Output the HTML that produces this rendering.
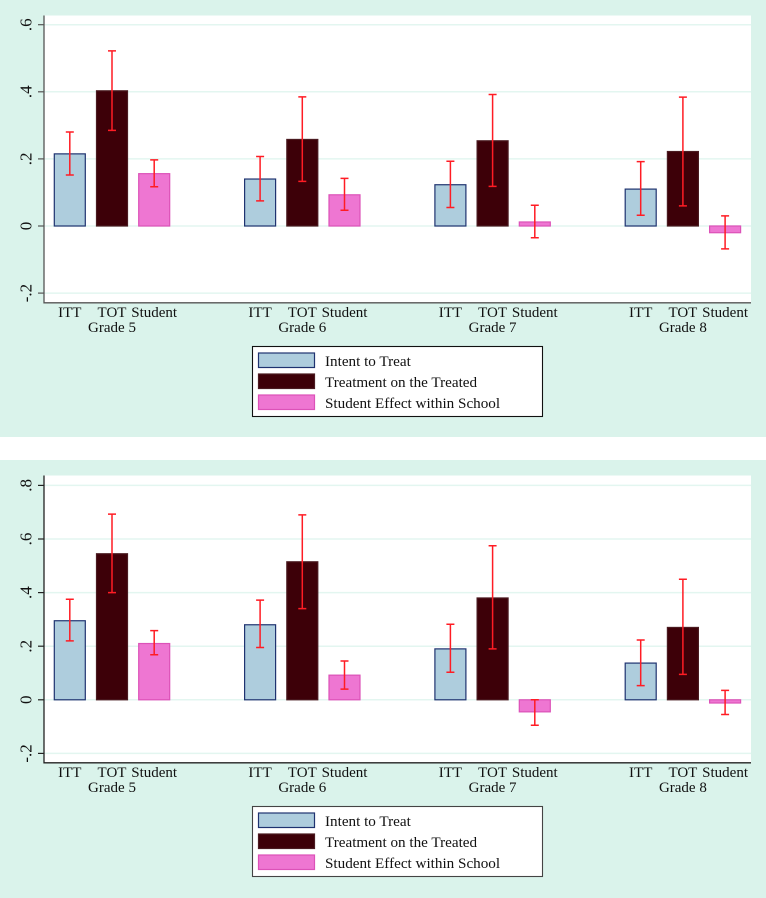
<!DOCTYPE html>
<html lang="en">
<head>
<meta charset="utf-8">
<title>Effects by grade</title>
<style>
html,body{margin:0;padding:0;background:#fff;width:766px;height:898px;overflow:hidden}
svg{display:block}
text{font-family:"Liberation Serif",serif;font-size:15px;fill:#111}
text.ytick{font-size:17px}
text.legend-text{font-size:15.15px}
</style>
</head>
<body>
<svg id="chart" xmlns="http://www.w3.org/2000/svg" width="766" height="898" viewBox="0 0 766 898"></svg>
<script>
const grades = ["Grade 5", "Grade 6", "Grade 7", "Grade 8"];
const measures = ["ITT", "TOT", "Student"];
const legendLabels = ["Intent to Treat", "Treatment on the Treated", "Student Effect within School"];

const topTicks = [-0.2, 0, 0.2, 0.4, 0.6];
const topTickLabels = ["-.2", "0", ".2", ".4", ".6"];
const topValues = [[0.215, 0.403, 0.156], [0.140, 0.258, 0.093], [0.123, 0.254, 0.012], [0.110, 0.222, -0.020]];
const topLow = [[0.152, 0.285, 0.117], [0.075, 0.133, 0.047], [0.055, 0.118, -0.035], [0.032, 0.060, -0.068]];
const topHigh = [[0.280, 0.522, 0.197], [0.207, 0.385, 0.142], [0.193, 0.392, 0.062], [0.192, 0.384, 0.030]];

const bottomTicks = [-0.2, 0, 0.2, 0.4, 0.6, 0.8];
const bottomTickLabels = ["-.2", "0", ".2", ".4", ".6", ".8"];
const bottomValues = [[0.295, 0.545, 0.210], [0.280, 0.515, 0.092], [0.190, 0.380, -0.045], [0.137, 0.270, -0.012]];
const bottomLow = [[0.220, 0.400, 0.168], [0.195, 0.340, 0.040], [0.103, 0.190, -0.095], [0.053, 0.095, -0.055]];
const bottomHigh = [[0.375, 0.693, 0.258], [0.372, 0.690, 0.145], [0.282, 0.575, 0.000], [0.223, 0.450, 0.035]];

const NS = "http://www.w3.org/2000/svg";
const root = document.getElementById("chart");
const fills = ["#aecddd", "#3d0008", "#ee76d2"];
const strokes = ["#1f3370", "#4a1a20", "#dc52b8"];

function make(parent, tag, attrs, text) {
  const el = document.createElementNS(NS, tag);
  for (const k in attrs) el.setAttribute(k, attrs[k]);
  if (text !== undefined) el.textContent = text;
  parent.appendChild(el);
  return el;
}

function xScale(groupIndex, measureIndex) {
  return 69.8 + groupIndex * 190.3 + measureIndex * 42.2;
}

function drawPanel(name, offset, bgHeight, zeroY, unit, ticks, tickLabels, values, low, high, axisColor, legendBorder) {
  const yScale = v => zeroY - v * unit;
  const panel = make(root, "g", {});
  
  

  const bg = make(panel, "rect", {x: 0, y: offset, width: 766, height: bgHeight, fill: "#daf3eb"});
  
  

  const plot = make(panel, "rect", {x: 44, y: offset + 15.5, width: 707, height: 287, fill: "#ffffff"});
  
  

  ticks.forEach((t, i) => {
    const y = yScale(t);
    const grid = make(panel, "line", {x1: 44, x2: 751, y1: y, y2: y, stroke: "#e3f6f0", "stroke-width": 1.5});
    
    
    const tick = make(panel, "line", {x1: 38, x2: 44, y1: y, y2: y, stroke: axisColor, "stroke-width": 1.2});
    
    
    const label = make(panel, "text", {class: "ytick", x: 0, y: 0, "text-anchor": "middle", transform: "translate(31.5," + y + ") rotate(-90)"}, tickLabels[i]);
    
    
  });

  grades.forEach((grade, g) => {
    measures.forEach((measure, m) => {
      const cx = xScale(g, m);
      const v = values[g][m];
      const top = Math.min(yScale(v), yScale(0));
      const h = Math.abs(yScale(v) - yScale(0));
      const bar = make(panel, "rect", {x: cx - 15.5, y: top, width: 31, height: h, fill: fills[m], stroke: strokes[m], "stroke-width": 1.2});
      
      

      const yl = yScale(low[g][m]);
      const yh = yScale(high[g][m]);
      const err = make(panel, "path", {
        d: "M" + (cx - 4) + " " + yh + "H" + (cx + 4) + "M" + cx + " " + yh + "V" + yl + "M" + (cx - 4) + " " + yl + "H" + (cx + 4),
        fill: "none", stroke: "#ff1c24", "stroke-width": 1.5
      });
      
      

      const lab = make(panel, "text", {x: cx, y: offset + 317, "text-anchor": "middle"}, measure);
      
      
    });
    const gl = make(panel, "text", {x: xScale(g, 1), y: offset + 332, "text-anchor": "middle"}, grade);
    
    
  });

  const yAxis = make(panel, "line", {x1: 44, x2: 44, y1: offset + 15.5, y2: offset + 303.5, stroke: axisColor, "stroke-width": 1.3});
  
  
  const xAxis = make(panel, "line", {x1: 44, x2: 751, y1: offset + 302.8, y2: offset + 302.8, stroke: axisColor, "stroke-width": 1.3});
  
  

  const legend = make(panel, "g", {});
  
  
  const box = make(legend, "rect", {x: 252.5, y: offset + 346.5, width: 290, height: 70, fill: "#ffffff", stroke: legendBorder, "stroke-width": 1.1});
  
  
  legendLabels.forEach((txt, i) => {
    const sy = offset + 353 + i * 21;
    const sw = make(legend, "rect", {x: 258.5, y: sy, width: 56, height: 14.5, fill: fills[i], stroke: strokes[i], "stroke-width": 1.2});
    
    
    const t = make(legend, "text", {class: "legend-text", x: 325, y: sy + 13}, txt);
    
    
  });
}

drawPanel("top-panel", 0, 437, 226, 335.5, topTicks, topTickLabels, topValues, topLow, topHigh, "#555555", "#111111");
drawPanel("bottom-panel", 460, 438, 699.8, 268, bottomTicks, bottomTickLabels, bottomValues, bottomLow, bottomHigh, "#222222", "#444444");
</script>
</body>
</html>
